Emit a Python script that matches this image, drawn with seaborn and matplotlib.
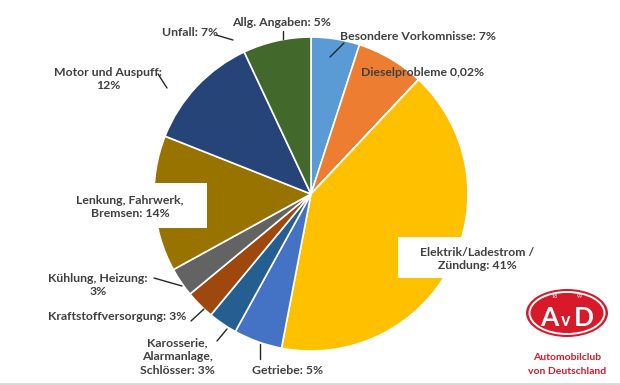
import matplotlib
matplotlib.use("Agg")
import matplotlib.pyplot as plt
import seaborn as sns
from matplotlib.patches import Ellipse, Rectangle

# Pannenursachen (Anteile in %)
categories = [
    "Allg. Angaben", "Besondere Vorkomnisse", "Dieselprobleme", "Elektrik/Ladestrom / Zündung",
    "Getriebe", "Karosserie, Alarmanlage, Schlösser", "Kraftstoffversorgung",
    "Kühlung, Heizung", "Lenkung, Fahrwerk, Bremsen", "Motor und Auspuff", "Unfall",
]
shares = [5, 7, 0.02, 41, 5, 3, 3, 3, 14, 12, 7]
labels = [
    "Allg. Angaben: 5%", "Besondere Vorkomnisse: 7%", "Dieselprobleme 0,02%",
    "Elektrik/Ladestrom /\nZündung: 41%", "Getriebe: 5%",
    "Karosserie,\nAlarmanlage,\nSchlösser: 3%", "Kraftstoffversorgung: 3%",
    "Kühlung, Heizung:\n3%", "Lenkung, Fahrwerk,\nBremsen: 14%",
    "Motor und Auspuff:\n12%", "Unfall: 7%",
]
colors = ["#5B9BD5", "#ED7D31", "#D9D2C0", "#FFC000", "#4472C4", "#255E91",
          "#9E480E", "#636363", "#997300", "#264478", "#43682B"]

sns.set_theme(style="white")
plt.rcParams['font.family'] = ['Lato', 'DejaVu Sans']

H = 385
fig = plt.figure(figsize=(6.2, 3.85), dpi=100)
ax = fig.add_axes([0, 0, 1, 1])

cx, cy, r = 311, H - 194, 157
ax.pie(shares, colors=colors, startangle=90, counterclock=False,
       center=(cx, cy), radius=r, frame=True,
       wedgeprops=dict(edgecolor="white", linewidth=1.2))
ax.set_xlim(0, 620)
ax.set_ylim(0, H)
ax.set_aspect("equal")
ax.axis("off")

# white label boxes over the two big slices
ax.add_patch(Rectangle((55, H - 228), 152, 45, fc="white", ec="none", zorder=3))
ax.add_patch(Rectangle((398, H - 278), 165, 41, fc="white", ec="none", zorder=3))

txt = dict(fontsize=8.8, fontweight="bold", color="#404040", ha="center", va="center",
           linespacing=1.3, zorder=4)

# (label position, leader line start, leader line end) in image pixels
pos = [
    ((281, 22), (283, 31), (283, 39)),
    ((418, 37), (344, 43), (330, 57)),
    ((423, 72), None, None),
    ((477, 259), None, None),
    ((288, 370), (260, 344), (260, 359)),
    ((177, 357), (217, 341), (227, 329)),
    ((117, 317), (191, 321), (204, 309)),
    ((98, 285), (154, 278), (182, 286)),
    ((130, 207), None, None),
    ((108, 79), (158, 74), (167, 88)),
    ((190, 32), (216, 35), (233, 40)),
]
for lab, (p, a, b) in zip(labels, pos):
    ax.text(p[0], H - p[1], lab, **txt)
    if a is not None:
        ax.plot([a[0], b[0]], [H - a[1], H - b[1]], color="#262626", lw=1)

# AvD logo
red = "#D7192A"
ax.add_patch(Ellipse((567, H - 313), 82, 48, fc=red, ec="none"))
ax.add_patch(Ellipse((567, H - 313), 75, 42, fc="none", ec="white", lw=1.4))
ax.text(549, H - 318, "A", fontsize=19, fontweight="bold", color="white", ha="center", va="center")
ax.text(566, H - 321, "v", fontsize=13, fontweight="bold", color="white", ha="center", va="center")
ax.text(584, H - 318, "D", fontsize=19, fontweight="bold", color="white", ha="center", va="center")
ax.text(555, H - 297, "18", fontsize=4, color="white", ha="center", va="center")
ax.text(580, H - 297, "99", fontsize=4, color="white", ha="center", va="center")
ax.text(567, H - 357, "Automobilclub", fontsize=7.5, fontweight="bold", color=red,
        ha="center", va="center")
ax.text(567, H - 371, "von Deutschland", fontsize=7.5, fontweight="bold", color=red,
        ha="center", va="center")

ax.axhline(1, color="#D9D9D9", lw=2)

fig.savefig("out.png", dpi=100)
